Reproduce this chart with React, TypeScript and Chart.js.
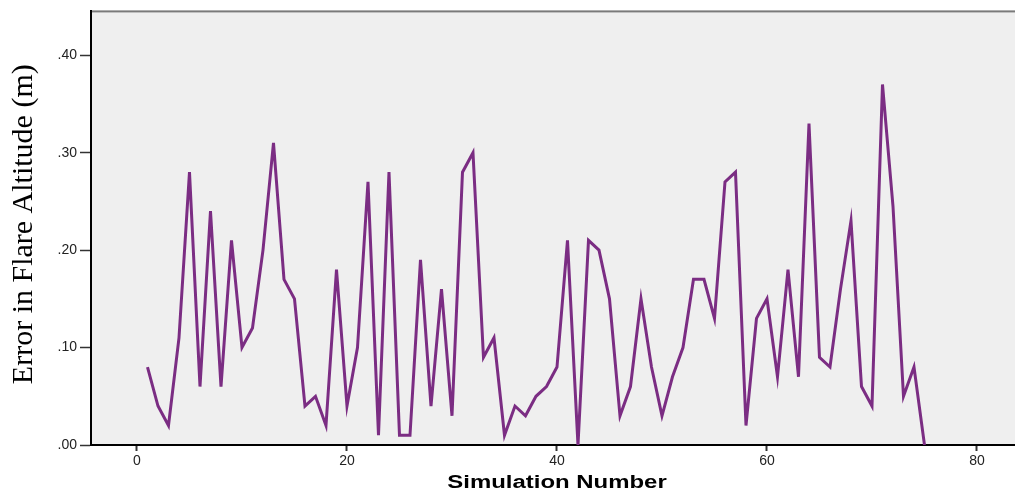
import React, { useEffect, useRef } from "react";
import { Chart, registerables } from "chart.js";

Chart.register(...registerables);

const simulationNumbers = [
  1, 2, 3, 4, 5, 6, 7, 8, 9, 10, 11, 12, 13, 14, 15, 16, 17, 18, 19, 20,
  21, 22, 23, 24, 25, 26, 27, 28, 29, 30, 31, 32, 33, 34, 35, 36, 37, 38, 39, 40,
  41, 42, 43, 44, 45, 46, 47, 48, 49, 50, 51, 52, 53, 54, 55, 56, 57, 58, 59, 60,
  61, 62, 63, 64, 65, 66, 67, 68, 69, 70, 71, 72, 73, 74, 75,
];

const altitudeErrors = [
  0.08, 0.04, 0.02, 0.11, 0.28, 0.06, 0.24, 0.06, 0.21, 0.10,
  0.12, 0.20, 0.31, 0.17, 0.15, 0.04, 0.05, 0.02, 0.18, 0.04,
  0.10, 0.27, 0.01, 0.28, 0.01, 0.01, 0.19, 0.04, 0.16, 0.03,
  0.28, 0.30, 0.09, 0.11, 0.01, 0.04, 0.03, 0.05, 0.06, 0.08,
  0.21, 0.00, 0.21, 0.20, 0.15, 0.03, 0.06, 0.15, 0.08, 0.03,
  0.07, 0.10, 0.17, 0.17, 0.13, 0.27, 0.28, 0.02, 0.13, 0.15,
  0.07, 0.18, 0.07, 0.33, 0.09, 0.08, 0.16, 0.23, 0.06, 0.04,
  0.37, 0.245, 0.05, 0.08, 0.00,
];

const yTickValues = [0, 0.1, 0.2, 0.3, 0.4];
const xTickValues = [0, 20, 40, 60, 80];

const xTitle = "Simulation Number";
const yTitle = "Error in Flare Altitude (m)";

export default function App() {
  const canvasRef = useRef<HTMLCanvasElement | null>(null);

  useEffect(() => {
    if (!canvasRef.current) return;

    const framePlugin = {
      id: "frame",
      beforeDraw(chart: any) {
        const { ctx, chartArea } = chart;
        ctx.save();
        ctx.fillStyle = "#efefef";
        ctx.fillRect(chartArea.left, chartArea.top, chartArea.right - chartArea.left, chartArea.bottom - chartArea.top);
        ctx.fillStyle = "#7a7a7a";
        ctx.fillRect(chartArea.left, chartArea.top - 1, chartArea.right - chartArea.left, 2);
        ctx.restore();
      },
      afterDraw(chart: any) {
        const { ctx, chartArea } = chart;
        ctx.save();
        ctx.fillStyle = "#000";
        ctx.textAlign = "center";
        ctx.textBaseline = "middle";
        // x title
        ctx.save();
        ctx.translate((chartArea.left + chartArea.right) / 2 + 4, chartArea.bottom + 38);
        ctx.scale(1.33, 1);
        ctx.font = 'bold 18px "Liberation Sans", Arial, sans-serif';
        ctx.fillText(xTitle, 0, 0);
        ctx.restore();
        // y title
        ctx.save();
        ctx.translate(24, (chartArea.top + chartArea.bottom) / 2 - 4);
        ctx.rotate(-Math.PI / 2);
        ctx.font = '30px "Liberation Serif", "Times New Roman", serif';
        ctx.fillText(yTitle, 0, 0);
        ctx.restore();
        ctx.restore();
      },
    };

    const chart = new Chart(canvasRef.current, {
      type: "line",
      data: {
        datasets: [
          {
            data: simulationNumbers.map((x, i) => ({ x, y: altitudeErrors[i] })),
            borderColor: "#7b2d83",
            borderWidth: 3,
            pointRadius: 0,
            tension: 0,
            fill: false,
          },
        ],
      },
      options: {
        animation: false,
        responsive: true,
        maintainAspectRatio: false,
        layout: { padding: { left: 0, top: 9, right: 0, bottom: 0 } },
        plugins: {
          legend: { display: false },
          tooltip: { enabled: false },
        },
        scales: {
          x: {
            type: "linear",
            min: -4.38,
            max: 83.62,
            afterFit(scale: any) {
              scale.height = 48;
            },
            afterBuildTicks(scale: any) {
              scale.ticks = xTickValues.map((v) => ({ value: v }));
            },
            border: { display: true, color: "#000", width: 2 },
            grid: {
              drawOnChartArea: false,
              drawTicks: true,
              tickLength: 6,
              tickWidth: 2,
              tickColor: "#333",
            },
            ticks: {
              color: "#222",
              padding: 2,
              maxRotation: 0,
              font: { family: '"Liberation Sans", Arial, sans-serif', size: 14 },
              callback: (v: any) => String(v),
            },
          },
          y: {
            type: "linear",
            min: 0,
            max: 0.445,
            afterFit(scale: any) {
              scale.width = 91;
            },
            afterBuildTicks(scale: any) {
              scale.ticks = yTickValues.map((v) => ({ value: v }));
            },
            border: { display: true, color: "#000", width: 2 },
            grid: {
              drawOnChartArea: false,
              drawTicks: true,
              tickLength: 11,
              tickWidth: 1.5,
              tickColor: "#333",
            },
            ticks: {
              color: "#222",
              padding: 3,
              font: { family: '"Liberation Sans", Arial, sans-serif', size: 14 },
              callback: (v: any) => Number(v).toFixed(2).replace(/^0/, ""),
            },
          },
        },
      },
      plugins: [framePlugin],
    });

    return () => chart.destroy();
  }, []);

  return (
    <div style={{ position: "fixed", left: 0, top: 0, width: 1015, height: 493, background: "#fff" }}>
      <canvas ref={canvasRef} />
    </div>
  );
}
